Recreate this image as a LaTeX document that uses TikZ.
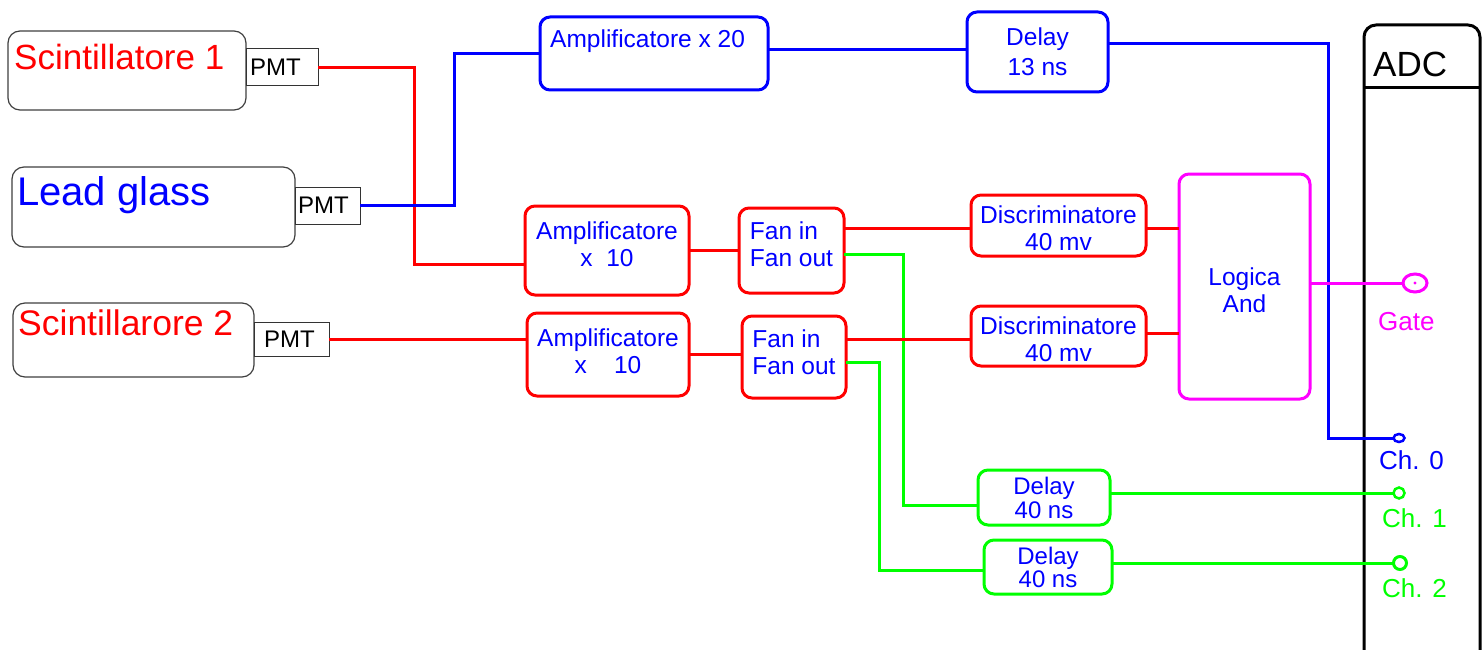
\documentclass[tikz,border=0pt]{standalone}
\usepackage{fontspec}
\setmainfont{Liberation Sans}
\usetikzlibrary{shapes.geometric}

\definecolor{gatemag}{RGB}{255,0,255}
\definecolor{sigred}{RGB}{255,0,0}
\definecolor{sigblue}{RGB}{0,0,255}
\definecolor{siggreen}{RGB}{0,255,0}

\begin{document}
\begin{tikzpicture}[
    x=1pt, y=-1pt,
    source/.style={
        rectangle,
        draw=black!75,
        line width=1.2pt,
        rounded corners=12pt,
        outer sep=0pt
    },
    pmt/.style={
        rectangle,
        draw=black!80,
        fill=white,
        line width=1pt,
        inner sep=0pt,
        outer sep=0pt
    },
    pmttxt/.style={
        anchor=west,
        inner sep=0pt,
        font=\fontsize{24}{28}\selectfont
    },
    module/.style={
        rectangle,
        draw=#1,
        line width=3pt,
        rounded corners=10pt,
        inner sep=0pt,
        outer sep=0pt,
        text=sigblue,
        align=center,
        font=\fontsize{24.5}{27}\selectfont
    },
    modtext/.style={
        inner sep=0pt,
        text=sigblue,
        align=center,
        font=\fontsize{24.5}{27}\selectfont
    },
    title/.style={
        anchor=base west,
        inner sep=0pt
    },
    wire/.style={draw=#1, line width=3pt},
    socket/.style={circle, draw=#1, line width=2.5pt, inner sep=0pt, outer sep=0pt},
    chlabel/.style={anchor=base west, inner sep=0pt, font=\fontsize{26}{30}\selectfont}
]
\path[use as bounding box, fill=white] (0,0) rectangle (1483,650);

% Detectors
\node[source, minimum width=238pt, minimum height=79pt] (scint1) at (127,70.5) {};
\node[title, text=sigred, font=\fontsize{35}{40}\selectfont] (scint1txt) at (14,70) {Scintillatore 1};
\node[pmt, minimum width=72pt, minimum height=37pt] (pmt1) at (282,67.5) {};
\node[pmttxt] (pmt1txt) at ([xshift=4pt]pmt1.west) {PMT};

\node[source, minimum width=283pt, minimum height=80pt] (lead) at (153.5,207) {};
\node[title, text=sigblue, font=\fontsize{40}{46}\selectfont] (leadtxt) at (17,205) {Lead glass};
\node[pmt, minimum width=65pt, minimum height=37pt] (pmt2) at (327.5,205.5) {};
\node[pmttxt] (pmt2txt) at ([xshift=3pt]pmt2.west) {PMT};

\node[source, minimum width=241pt, minimum height=74pt] (scint2) at (133.5,340) {};
\node[title, text=sigred, font=\fontsize{35.5}{40}\selectfont] (scint2txt) at (18,335) {Scintillarore 2};
\node[pmt, minimum width=75pt, minimum height=34pt] (pmt3) at (291.5,339) {};
\node[pmttxt] (pmt3txt) at ([xshift=10pt]pmt3.west) {PMT};

% Lead glass chain
\node[module=sigblue, minimum width=228pt, minimum height=73pt] (amp20) at (654,53.5) {};
\node[title, text=sigblue, font=\fontsize{24.5}{27}\selectfont] (amp20txt) at (550,48) {Amplificatore x 20};
\node[module=sigblue, minimum width=141pt, minimum height=80pt, font=\fontsize{24.5}{30}\selectfont] (delay13) at (1037.5,52) {Delay\\13 ns};

% Scintillator chains
\node[module=sigred, minimum width=164pt, minimum height=89pt] (amp1) at (607,250.5) {};
\node[modtext] (amp1txt) at ([yshift=6pt]amp1.center) {Amplificatore\\x\ \ 10};
\node[module=sigred, minimum width=105pt, minimum height=85pt] (fan1) at (791.5,250.5) {};
\node[modtext, align=left] (fan1txt) at ([yshift=6pt]fan1.center) {Fan in\\Fan out};
\node[module=sigred, minimum width=162pt, minimum height=83pt] (amp2) at (608,354.5) {};
\node[modtext] (amp2txt) at ([yshift=3pt]amp2.center) {Amplificatore\\x\ \ \ \ 10};
\node[module=sigred, minimum width=104pt, minimum height=82pt] (fan2) at (794,357) {};
\node[modtext, align=left] (fan2txt) at ([yshift=5pt]fan2.center) {Fan in\\Fan out};
\node[module=sigred, minimum width=175pt, minimum height=61pt] (disc1) at (1058.5,225.5) {};
\node[modtext] (disc1txt) at ([yshift=-3pt]disc1.center) {Discriminatore\\40 mv};
\node[module=sigred, minimum width=175pt, minimum height=60pt] (disc2) at (1058.5,336) {};
\node[modtext] (disc2txt) at ([yshift=-3pt]disc2.center) {Discriminatore\\40 mv};
\node[module=gatemag, minimum width=131pt, minimum height=225pt] (andgate) at (1244.5,286.5) {};
\node[modtext] (andtxt) at ([yshift=-4pt]andgate.center) {Logica\\And};

% Delays
\node[module=siggreen, minimum width=132pt, minimum height=55pt, font=\fontsize{24}{24}\selectfont] (delay1) at (1044,497.5) {Delay\\40 ns};
\node[module=siggreen, minimum width=128pt, minimum height=54pt, font=\fontsize{24}{23}\selectfont] (delay2) at (1048,567) {Delay\\40 ns};

% ADC
\node[rectangle, draw=black, line width=3pt, rounded corners=12pt, minimum width=116pt, minimum height=640pt, outer sep=0pt] (adc) at (1422,345) {};
\coordinate (headline) at (1422,88);
\draw[line width=3pt] (adc.west |- headline) -- (adc.east |- headline);
\node[title, font=\fontsize{35}{40}\selectfont] (adctxt) at (1373,77) {ADC};

\node[socket=gatemag, ellipse, line width=3pt, minimum width=24pt, minimum height=18pt] (gate) at (1415,283) {};
\fill[gatemag] (gate.center) circle (1.6);
\node[socket=sigblue, ellipse, minimum width=11pt, minimum height=8pt] (ch0) at (1399,438) {};
\node[socket=siggreen, minimum size=11pt] (ch1) at (1399,493) {};
\node[socket=siggreen, minimum size=13pt, line width=3pt] (ch2) at (1400,563) {};

\node[chlabel, text=gatemag] (gatetxt) at (1378,330) {Gate};
\node[chlabel, text=sigblue] (ch0txt) at (1379,469) {Ch. 0};
\node[chlabel, text=siggreen] (ch1txt) at (1382,527) {Ch. 1};
\node[chlabel, text=siggreen] (ch2txt) at (1382,597) {Ch. 2};

% Connections
\draw[wire=sigred] (pmt1.east) -- ++(96,0) |- ([yshift=-13.5pt]amp1.west);
\draw[wire=sigblue] (pmt2.east) -- ++(94,0) |- (amp20.west);
\draw[wire=sigred] (pmt3.east) -- (pmt3.east -| amp2.west);
\draw[wire=sigblue] ([yshift=3.5pt]amp20.east) -- ([yshift=3.5pt]amp20.east -| delay13.west);
\draw[wire=sigblue] ([yshift=8pt]delay13.east) -- ++(220,0) |- (ch0);
\draw[wire=sigred] (amp1) -- (fan1);
\draw[wire=sigred] (amp2.east) -- (amp2.east -| fan2.west);
\draw[wire=sigred] ([yshift=22pt]fan1.east) -- ([yshift=22pt]fan1.east -| disc1.west);
\draw[wire=siggreen] ([yshift=-3.5pt]fan1.east) -- ++(59,0) |- ([yshift=-7.5pt]delay1.west);
\draw[wire=sigred] ([yshift=18pt]fan2.east) -- ([yshift=18pt]fan2.east -| disc2.west);
\draw[wire=siggreen] ([yshift=-5pt]fan2.east) -- ++(33,0) |- ([yshift=-3pt]delay2.west);
\draw[wire=sigred] ([yshift=-2.5pt]disc1.east) -- ([yshift=-2.5pt]disc1.east -| andgate.west);
\draw[wire=sigred] ([yshift=3pt]disc2.east) -- ([yshift=3pt]disc2.east -| andgate.west);
\draw[wire=gatemag] (andgate.east |- gate) -- (gate);
\draw[wire=siggreen] (delay1.east |- ch1) -- (ch1);
\draw[wire=siggreen] (delay2.east |- ch2) -- (ch2);

\end{tikzpicture}
\end{document}
